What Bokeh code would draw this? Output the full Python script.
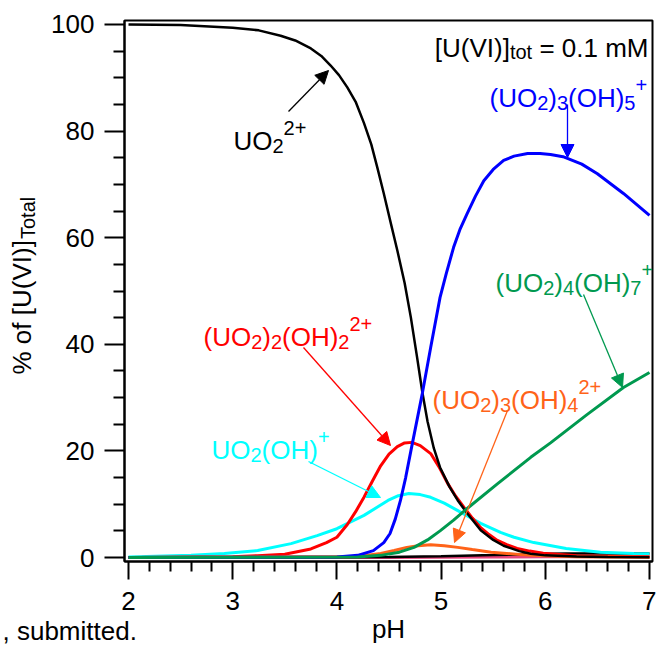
import numpy as np
from bokeh.plotting import figure
from bokeh.models import Label, Arrow, NormalHead, FixedTicker, LinearAxis, Title
from bokeh.embed import file_html
from bokeh.resources import INLINE

# ---------------- data ----------------
ph_uo2 = [2.0, 2.5, 3.0, 3.25, 3.46, 3.6, 3.75, 3.85, 3.94, 4.02, 4.1, 4.18, 4.26, 4.33, 4.39,
          4.45, 4.52, 4.58, 4.65, 4.71, 4.77, 4.82, 4.87, 4.93, 4.99, 5.08, 5.16, 5.25, 5.38,
          5.5, 5.6, 5.75, 5.86, 6.0, 6.3, 6.6, 7.0]
pct_uo2 = [100.0, 99.9, 99.4, 98.9, 97.9, 97.0, 95.5, 94.1, 92.3, 90.5, 88.2, 85.5, 81.5, 77.5,
           73.0, 68.3, 62.5, 57.6, 51.5, 45.0, 37.5, 31.0, 25.5, 20.5, 16.9, 13.3, 10.7, 8.3,
           5.1, 3.3, 2.2, 1.2, 0.7, 0.4, 0.2, 0.1, 0.05]

ph_uo2oh2 = [2.0, 3.0, 4.0, 4.5, 5.0, 5.5, 5.9, 6.2, 6.6, 7.0]
pct_uo2oh2 = [0.0, 0.0, 0.05, 0.1, 0.25, 0.45, 0.65, 0.75, 0.75, 0.75]

ph_uo2oh = [2.0, 2.6, 2.92, 3.24, 3.56, 3.81, 4.0, 4.26, 4.49, 4.59, 4.69, 4.8, 4.9, 5.03, 5.16,
            5.27, 5.38, 5.57, 5.7, 5.89, 6.2, 6.53, 6.85, 7.0]
pct_uo2oh = [0.1, 0.4, 0.75, 1.3, 2.6, 4.1, 5.4, 7.9, 10.7, 11.6, 12.0, 11.8, 11.3, 10.2, 8.8,
             7.6, 6.4, 4.7, 3.8, 2.8, 1.7, 1.0, 0.75, 0.7]

ph_22 = [2.0, 3.0, 3.24, 3.5, 3.75, 3.9, 4.0, 4.1, 4.18, 4.26, 4.34, 4.42, 4.5, 4.58, 4.65, 4.72,
         4.8, 4.9, 4.98, 5.06, 5.14, 5.22, 5.3, 5.38, 5.46, 5.54, 5.63, 5.73, 5.85, 5.98, 6.3, 7.0]
pct_22 = [0.0, 0.15, 0.35, 0.6, 1.6, 2.8, 3.8, 6.2, 8.6, 11.3, 14.3, 17.2, 19.4, 20.8, 21.5, 21.6,
          21.0, 19.5, 17.0, 14.0, 11.5, 9.4, 7.4, 5.6, 4.3, 3.2, 2.4, 1.7, 1.2, 0.8, 0.35, 0.1]

ph_34 = [2.0, 4.2, 4.42, 4.55, 4.67, 4.78, 4.9, 5.03, 5.16, 5.3, 5.48, 5.86, 6.3, 7.0]
pct_34 = [0.0, 0.2, 0.75, 1.3, 1.9, 2.2, 2.4, 2.2, 1.9, 1.5, 1.0, 0.4, 0.15, 0.05]

ph_35 = [2.0, 4.0, 4.2, 4.35, 4.45, 4.51, 4.56, 4.61, 4.66, 4.71, 4.82, 4.9, 4.99, 5.05, 5.12,
         5.18, 5.25, 5.33, 5.41, 5.5, 5.6, 5.7, 5.83, 5.95, 6.05, 6.17, 6.35, 6.5, 6.75, 7.0]
pct_35 = [0.0, 0.1, 0.4, 1.3, 2.8, 4.5, 7.2, 10.7, 15.0, 20.0, 30.8, 39.4, 48.8, 53.3, 58.2,
          61.5, 64.5, 67.8, 70.7, 72.8, 74.5, 75.3, 75.8, 75.8, 75.6, 75.2, 73.8, 72.0, 68.3, 64.2]

ph_47 = [2.0, 4.2, 4.42, 4.6, 4.74, 4.87, 4.99, 5.12, 5.25, 5.54, 5.86, 6.05, 6.4, 6.75, 7.0]
pct_47 = [0.0, 0.1, 0.4, 1.0, 1.9, 3.3, 5.0, 7.0, 9.2, 13.8, 18.8, 21.5, 26.8, 31.9, 34.7]

ph_minor = [2.0, 4.5, 5.0, 5.5, 6.0, 7.0]
pct_minor = [0.0, 0.0, 0.05, 0.1, 0.15, 0.2]

x_major = [2, 3, 4, 5, 6, 7]
x_minor = [round(2 + 0.2 * i, 1) for i in range(26) if i % 5 != 0]
y_major = [0, 20, 40, 60, 80, 100]
y_minor = [v for v in range(0, 101, 5) if v % 20 != 0]

ylabel_main = "% of [U(VI)]"
ylabel_sub = "Total"
xlabel = "pH"
footnote = ", submitted."

# ---------------- layout ----------------
FONT = "Liberation Sans"
MAIN, SMALL = 26, 20
LEFT, TOP, RIGHT, BOTTOM = 124, 20, 4, 91
FW, FH = 528, 541
xs, xe = 1.9616, 7.0288
ys, ye = -0.75, 100.75

BLACK, BLUE, RED, CYAN = "#000000", "#0000ff", "#ff0000", "#00ffff"
GREEN, ORANGE, PINK = "#00994f", "#ff6319", "#e8437c"

p = figure(frame_width=FW, frame_height=FH, x_range=(xs, xe), y_range=(ys, ye),
           output_backend="svg", toolbar_location=None,
           min_border_left=LEFT, min_border_top=TOP, min_border_right=RIGHT,
           min_border_bottom=BOTTOM)
p.background_fill_color = "white"
p.border_fill_color = "white"
p.outline_line_color = "black"
p.outline_line_width = 2
p.xgrid.visible = False
p.ygrid.visible = False

for ax in (p.xaxis[0], p.yaxis[0]):
    ax.axis_line_width = 2
    ax.major_tick_line_width = 2
    ax.minor_tick_line_width = 2
    ax.major_tick_in = 0
    ax.minor_tick_in = 0
    ax.major_label_text_font = FONT
    ax.major_label_text_font_size = f"{MAIN}px"
    ax.major_label_text_color = "black"
    ax.axis_line_color = "black"
    ax.major_tick_line_color = "black"
    ax.minor_tick_line_color = "black"

p.xaxis.ticker = FixedTicker(ticks=x_major, minor_ticks=x_minor)
p.yaxis.ticker = FixedTicker(ticks=y_major, minor_ticks=y_minor)
p.xaxis.major_tick_out = 18
p.xaxis.minor_tick_out = 10
p.yaxis.major_tick_out = 20
p.yaxis.minor_tick_out = 11
p.xaxis.major_label_standoff = 12
p.yaxis.major_label_standoff = 10


def Y(py):
    return ye - (py - TOP) * (ye - ys) / FH


def X(px):
    return xs + (px - LEFT) * (xe - xs) / FW


W = {" ": 278, "%": 889, "(": 333, ")": 333, "+": 584, ",": 278, ".": 278, "=": 584,
     "H": 722, "I": 278, "M": 833, "O": 778, "T": 611, "U": 722, "V": 667, "[": 278, "]": 278,
     "a": 556, "b": 556, "d": 556, "e": 556, "f": 278, "i": 222, "l": 222, "m": 833, "o": 556,
     "p": 556, "s": 500, "t": 278, "u": 556}


def tw(s, size):
    return sum(W.get(c, 556) for c in s) * size / 1000.0


def label_axis(text, size, center_py, standoff):
    """extra, tick-less left axis whose single tick label is a piece of the y-axis title"""
    v = round(Y(center_py), 2)
    ax = LinearAxis(ticker=FixedTicker(ticks=[v]), major_label_overrides={v: text},
                    major_label_orientation="vertical", major_label_standoff=standoff,
                    major_tick_out=0, major_tick_in=0, minor_tick_out=0, minor_tick_in=0,
                    axis_line_color=None, major_tick_line_color=None,
                    minor_tick_line_color=None, major_label_text_font=FONT,
                    major_label_text_font_size=f"{size}px", major_label_text_color="black")
    p.add_layout(ax, "left")


# rotated y title "% of [U(VI)]_Total" (subscript part nearer to the frame)
y_start_px = 374
w_main = tw(ylabel_main, MAIN)
w_sub = tw(ylabel_sub, SMALL)
label_axis(ylabel_sub, SMALL, y_start_px - w_main - w_sub / 2, 9)
label_axis(ylabel_main, MAIN, y_start_px - w_main / 2, -23)

# footnote, left part of the bottom row
p.add_layout(Title(text=footnote, align="left", offset=2 - LEFT, vertical_align="bottom",
                   standoff=3, text_font=FONT, text_font_size=f"{MAIN}px",
                   text_font_style="normal", text_color="black"), "below")

# x title "pH" on the same row
xl = LinearAxis(ticker=FixedTicker(ticks=[]), axis_label=xlabel, axis_label_standoff=-34,
                major_label_standoff=0, major_tick_out=0, minor_tick_out=0,
                axis_line_color=None, major_tick_line_color=None, minor_tick_line_color=None,
                axis_label_text_font=FONT, axis_label_text_font_size=f"{MAIN}px",
                axis_label_text_font_style="normal", axis_label_text_color="black")
p.add_layout(xl, "below")

# ---------------- curves ----------------
p.line(ph_minor, pct_minor, line_color=PINK, line_width=3)
p.line(ph_uo2oh2, pct_uo2oh2, line_color=BLACK, line_width=2.5)
p.line(ph_uo2oh, pct_uo2oh, line_color=CYAN, line_width=3)
p.line(ph_22, pct_22, line_color=RED, line_width=3)
p.line(ph_34, pct_34, line_color=ORANGE, line_width=3)
p.line(ph_uo2, pct_uo2, line_color=BLACK, line_width=2.5)
p.line(ph_35, pct_35, line_color=BLUE, line_width=3)
p.line(ph_47, pct_47, line_color=GREEN, line_width=3)


# ---------------- annotations ----------------
def formula(px, py, segs, color, main=MAIN, small=SMALL, sub_dy=5, sup_dy=-13, align="left"):
    total = sum(tw(t, main if k == "n" else small) for t, k in segs)
    x = px - total if align == "right" else px
    for t, k in segs:
        fs = main if k == "n" else small
        dy = 0 if k == "n" else (sub_dy if k == "b" else sup_dy)
        lead = len(t) - len(t.lstrip(" "))
        x += tw(" " * lead, fs)
        t2 = t.lstrip(" ")
        p.add_layout(Label(x=X(x), y=Y(py + dy), text=t2, text_font=FONT,
                           text_font_size=f"{fs}px", text_color=color,
                           text_baseline="alphabetic", text_align="left"))
        x += tw(t2, fs)


def arrow(x0, y0, x1, y1, color):
    p.add_layout(Arrow(end=NormalHead(size=13, fill_color=color, line_color=color, line_width=1),
                       x_start=X(x0), y_start=Y(y0), x_end=X(x1), y_end=Y(y1),
                       line_color=color, line_width=1.3))


formula(233, 140, [("UO", "n"), ("2", "b"), ("2+", "p")], BLACK)
arrow(288, 111, 328, 70, BLACK)

formula(489, 97, [("(UO", "n"), ("2", "b"), (")", "n"), ("3", "b"), ("(OH)", "n"), ("5", "b"),
                  ("+", "p")], BLUE)
arrow(567, 104, 567, 157, BLUE)

formula(495, 282, [("(UO", "n"), ("2", "b"), (")", "n"), ("4", "b"), ("(OH)", "n"), ("7", "b"),
                   ("+", "p")], GREEN)
arrow(583, 294, 622, 387, GREEN)

formula(203, 336, [("(UO", "n"), ("2", "b"), (")", "n"), ("2", "b"), ("(OH)", "n"), ("2", "b"),
                   ("2+", "p")], RED)
arrow(303, 347, 390, 445, RED)

formula(211, 449, [("UO", "n"), ("2", "b"), ("(OH)", "n"), ("+", "p")], CYAN)
arrow(308, 461, 380, 497, CYAN)

formula(432, 399, [("(UO", "n"), ("2", "b"), (")", "n"), ("3", "b"), ("(OH)", "n"), ("4", "b"),
                   ("2+", "p")], ORANGE)
arrow(507, 410, 454, 542, ORANGE)

formula(648, 47, [("[U(VI)]", "n"), ("tot", "b"), (" = 0.1 mM", "n")], BLACK, sub_dy=4,
        align="right")

open("out.html", "w").write(file_html(p, INLINE))
